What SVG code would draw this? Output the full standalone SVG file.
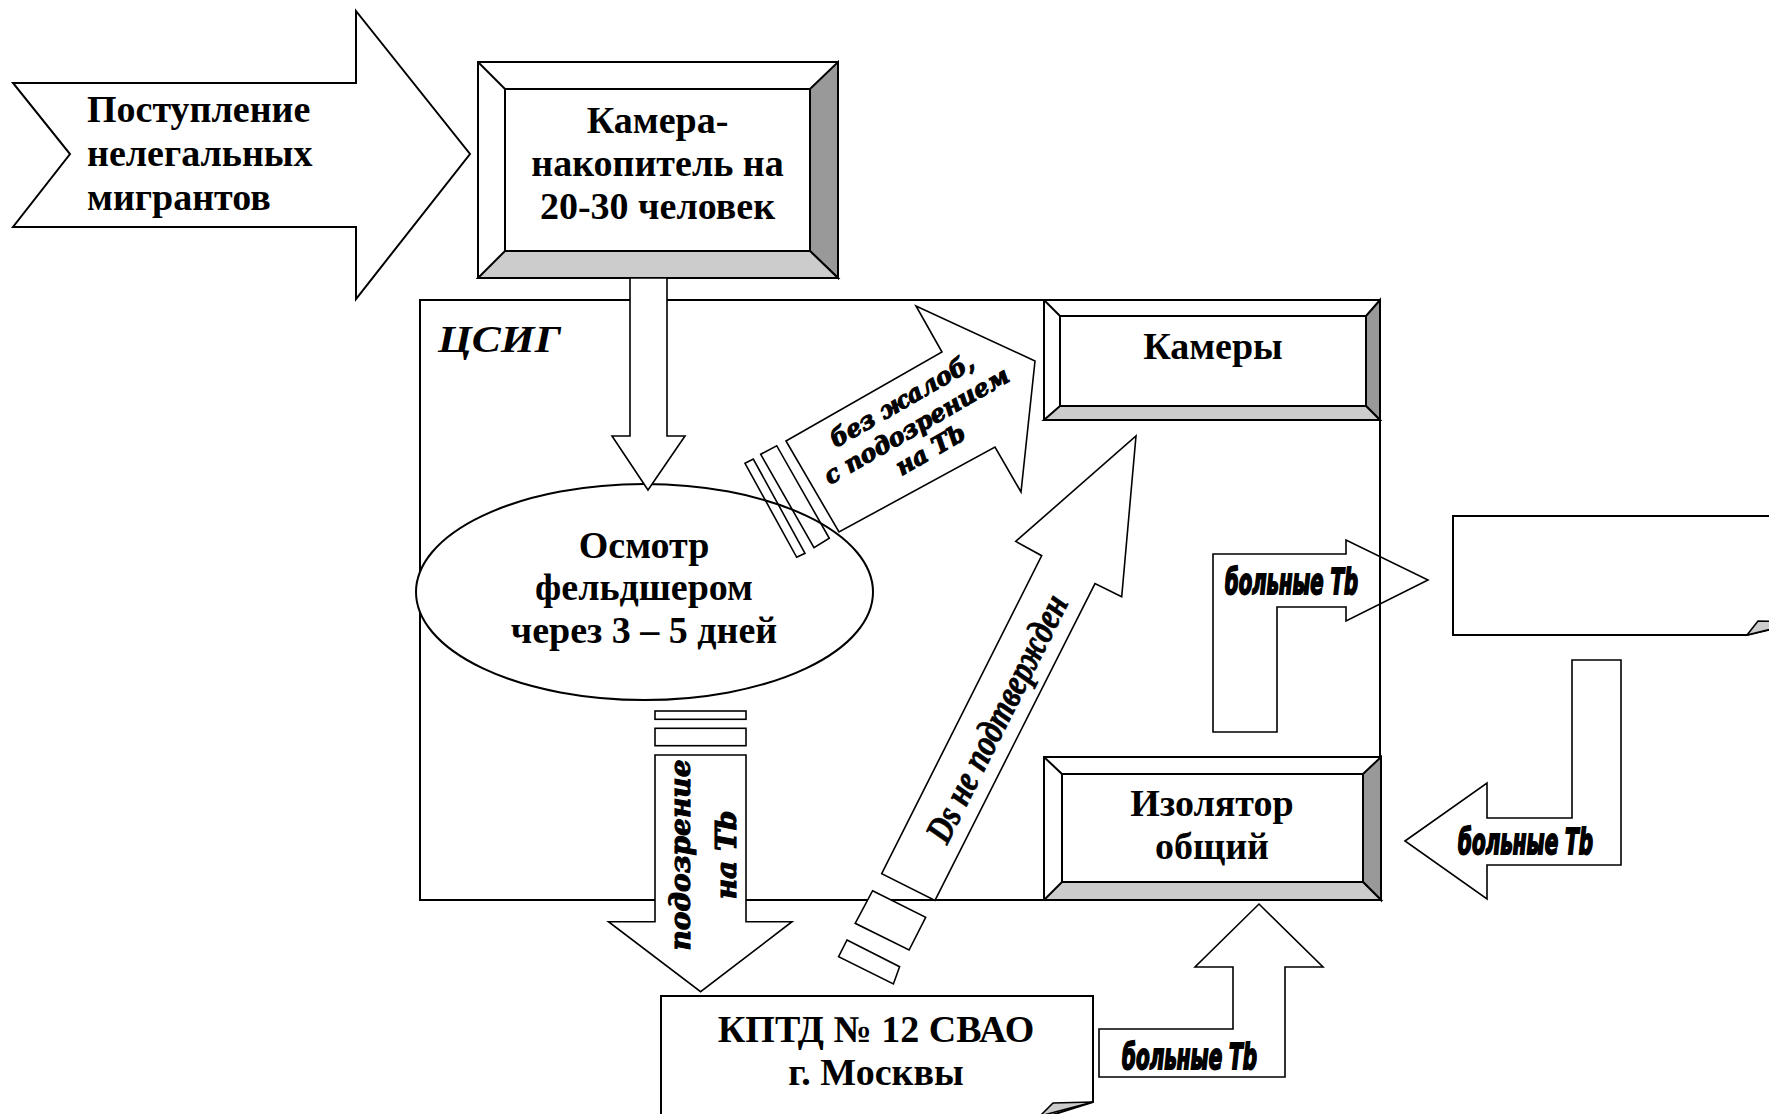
<svg xmlns="http://www.w3.org/2000/svg" width="1769" height="1114" viewBox="0 0 1769 1114">
<style>
.ln{stroke:#000;stroke-width:2;stroke-linejoin:miter}
.al{stroke:#000;stroke-width:1.6;stroke-linejoin:miter}
.w{fill:#fff}
.n{fill:none}
.dk{fill:#999}
.lt{fill:#ccc}
.t{font-family:"Liberation Serif","Times New Roman",serif;font-weight:bold;font-size:38px;fill:#000}
.c{text-anchor:middle}
.ts{font-family:"DejaVu Serif",serif;font-weight:bold;font-style:italic;fill:#000;stroke:#000;stroke-width:1.1;text-anchor:middle}
.tb{font-family:"DejaVu Sans Condensed","DejaVu Sans",sans-serif;font-weight:bold;font-style:italic;font-size:24px;fill:#000;stroke:#000;stroke-width:1.3}
.td{font-family:"Liberation Serif","Times New Roman",serif;font-style:italic;font-weight:bold;font-size:38px;fill:#000;stroke:#000;stroke-width:0.7;text-anchor:middle}
</style>
<rect x="0" y="0" width="1769" height="1114" fill="#fff"/>

<g id="blank-box">
<polygon class="ln w" points="1453,516 1800,516 1800,622 1747,635 1453,635"/>
<polygon class="al lt" points="1747,635 1758,621 1800,622"/>
</g>

<g id="kptd">
<polygon class="ln w" points="661,1120 661,996 1093,996 1093,1102 1036,1120"/>
<polygon class="al lt" points="1040,1116 1053,1103 1093,1102"/>
<text class="t c" x="876" y="1042">КПТД № 12 СВАО</text>
<text class="t c" x="876" y="1085">г. Москвы</text>
</g>

<g id="csig">
<rect class="ln n" x="420" y="300" width="960" height="600"/>
<text class="t" x="438" y="352" font-style="italic" font-size="45" textLength="123" lengthAdjust="spacingAndGlyphs">ЦСИГ</text>
</g>

<g id="exam">
<ellipse class="ln w" cx="644.5" cy="592" rx="228.5" ry="108"/>
<text class="t c" x="644" y="558">Осмотр</text>
<text class="t c" x="644" y="600">фельдшером</text>
<text class="t c" x="644" y="643">через 3 – 5 дней</text>
</g>

<g id="arrival">
<polygon class="ln w" points="13,83 356,83 356,11 470,154 356,299 356,227 13,227 70,154"/>
<text class="t" x="87" y="122">Поступление</text>
<text class="t" x="87" y="166">нелегальных</text>
<text class="t" x="87" y="210">мигрантов</text>
</g>

<g id="camera-accum">
<rect class="ln w" x="478" y="62" width="360" height="216"/>
<polygon class="ln dk" points="838,62 838,278 810,251 810,89"/>
<polygon class="ln lt" points="478,278 838,278 810,251 505,251"/>
<line class="ln" x1="478" y1="62" x2="505" y2="89"/>
<rect class="ln w" x="505" y="89" width="305" height="162"/>
<text class="t c" x="657.5" y="133">Камера-</text>
<text class="t c" x="657.5" y="176">накопитель на</text>
<text class="t c" x="657.5" y="219">20-30 человек</text>
</g>

<g id="cameras">
<rect class="ln w" x="1044" y="300" width="336" height="120"/>
<polygon class="ln dk" points="1380,300 1380,420 1366,406 1366,316"/>
<polygon class="ln lt" points="1044,420 1380,420 1366,406 1060,406"/>
<line class="ln" x1="1044" y1="300" x2="1060" y2="316"/>
<rect class="ln w" x="1060" y="316" width="306" height="90"/>
<text class="t c" x="1213" y="359">Камеры</text>
</g>

<g id="isolator">
<rect class="ln w" x="1044" y="757" width="337" height="143"/>
<polygon class="ln dk" points="1381,757 1381,900 1363,882 1363,774"/>
<polygon class="ln lt" points="1044,900 1381,900 1363,882 1062,882"/>
<line class="ln" x1="1044" y1="757" x2="1062" y2="774"/>
<rect class="ln w" x="1062" y="774" width="301" height="108"/>
<text class="t c" x="1212" y="816">Изолятор</text>
<text class="t c" x="1212" y="859">общий</text>
</g>

<g id="connectors">
<polygon class="al w" points="630,278 667,278 667,436 685,436 648,490 612,436 630,436"/>

<polygon class="al w" points="786,441 942,352 916,306 1035,361 1021,492 995,447 839,532"/>
<polygon class="al n" points="760.7,454.3 776.7,445.7 829.3,538.3 814,547.7"/>
<polygon class="al n" points="745,463.3 753.3,459 805,553.3 796.7,557.3"/>
<g transform="translate(921,433.5) rotate(-30)">
<text class="ts" x="0" y="-30" font-size="24">без жалоб,</text>
<text class="ts" x="0" y="-1" font-size="24">с подозрением</text>
<text class="ts" x="0" y="27" font-size="24">на Tb</text>
</g>

<polygon class="al w" points="881.7,873.6 1041.7,555.7 1015.7,541.4 1136,436 1121.7,596.8 1095,583.6 935,900.4"/>
<polygon class="al w" points="872.6,890.7 925.7,917.3 909.1,950 855.2,923.3"/>
<polygon class="al w" points="847,940 899.6,966.7 893.4,984 838.6,956.7"/>
<text class="td" transform="translate(1008,724) rotate(-63.3)" textLength="272" lengthAdjust="spacingAndGlyphs">Ds не подтвержден</text>

<rect class="al w" x="655" y="711" width="91" height="8.3"/>
<rect class="al w" x="655" y="728.3" width="91" height="17.4"/>
<polygon class="al w" points="655,755 746,755 746,921.7 792,921.7 700.6,991.7 608.5,921.7 655,921.7"/>
<text class="ts" transform="translate(690,855) rotate(-90)" font-size="28">подозрение</text>
<text class="ts" transform="translate(736,855) rotate(-90)" font-size="28">на Tb</text>

<polygon class="al n" points="1213,554 1346,554 1346,540 1428,580 1346,621 1346,607 1277,607 1277,732 1213,732"/>
<text class="tb" transform="translate(1225,594) scale(1,1.5)" textLength="133" lengthAdjust="spacingAndGlyphs">больные Tb</text>

<polygon class="al w" points="1405,841 1487,783 1487,818 1572,818 1572,660 1621,660 1621,865 1487,865 1487,899"/>
<text class="tb" transform="translate(1458,854) scale(1,1.5)" textLength="135" lengthAdjust="spacingAndGlyphs">больные Tb</text>

<polygon class="al w" points="1099,1029 1233,1029 1233,967 1195,967 1259,904 1323,967 1285,967 1285,1077 1099,1077"/>
<text class="tb" transform="translate(1122,1069) scale(1,1.5)" textLength="135" lengthAdjust="spacingAndGlyphs">больные Tb</text>
</g>
</svg>
